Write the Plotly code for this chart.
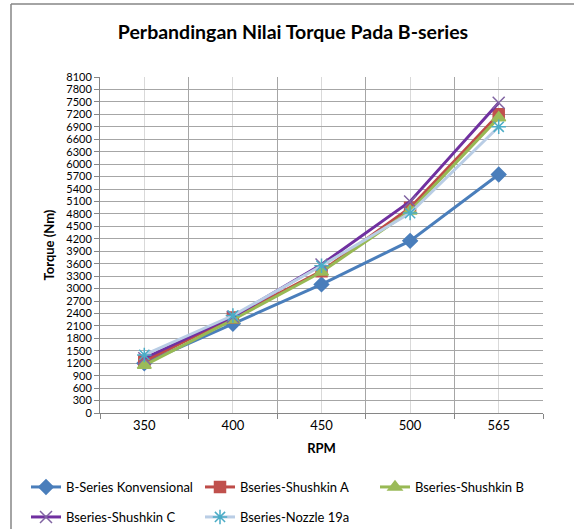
import plotly.graph_objects as go

# RPM categories and torque readings (Nm)
rpm = ["350", "400", "450", "500", "565"]
konvensional = [1200, 2150, 3100, 4150, 5750]
shushkin_a = [1250, 2300, 3420, 4950, 7200]
shushkin_b = [1150, 2250, 3400, 4870, 7120]
shushkin_c = [1320, 2320, 3580, 5100, 7480]
nozzle_19a = [1400, 2350, 3550, 4820, 6900]
y_ticks = list(range(0, 8101, 300))

FONT = "Lato"
W, H = 574, 529
L, R, T, B = 100, 31, 77, 116
pw, ph = W - L - R, H - T - B

xpos = list(range(len(rpm)))

# name, values, line colour, marker colour, symbol, size, legend slot
series = [
    ("B-Series Konvensional", konvensional, "#4A7EBB", "#4A7EBB", "diamond", 11, "legend"),
    ("Bseries-Shushkin A", shushkin_a, "#BE4B48", "#C0504D", "square", 11, "legend"),
    ("Bseries-Shushkin B", shushkin_b, "#98B954", "#9BBB59", "triangle-up", 12, "legend3"),
    ("Bseries-Shushkin C", shushkin_c, "#7030A0", "#8064A2", "x-thin-open", 12, "legend2"),
    ("Bseries-Nozzle 19a", nozzle_19a, "#B9CDE5", "#4BACC6", "asterisk-open", 12, "legend2"),
]

fig = go.Figure()
for name, vals, lc, mc, sym, size, lg in series:
    fig.add_trace(go.Scatter(
        x=xpos, y=vals, name=name, mode="lines+markers",
        line=dict(color=lc, width=3),
        marker=dict(symbol=sym, size=size, color=mc,
                    line=dict(color=mc, width=1.5)),
        legend=lg,
    ))

def px_x(p):
    return (p - L) / pw

def px_y(p):
    return (H - B - p) / ph

legend_style = dict(
    orientation="h", xanchor="left", yanchor="middle",
    font=dict(family=FONT, size=13, color="#000000"),
    entrywidth=129, entrywidthmode="pixels",
    bgcolor="rgba(0,0,0,0)", itemwidth=30,
)

fig.update_layout(
    width=W, height=H,
    margin=dict(l=L, r=R, t=T, b=B, autoexpand=False),
    paper_bgcolor="white", plot_bgcolor="white",
    title=dict(text="<b>Perbandingan Nilai Torque Pada B-series</b>",
               x=px_x(293), xref="paper", xanchor="center",
               y=1 - 32 / H, yanchor="middle",
               font=dict(family=FONT, size=19.5, color="#000000")),
    xaxis=dict(
        range=[-0.5, len(rpm) - 0.5],
        tickmode="array", tickvals=xpos, ticktext=rpm,
        showgrid=True, gridcolor="#D9D9D9", gridwidth=1,
        minor=dict(tickmode="linear", tick0=-0.5, dtick=1,
                   showgrid=True, gridcolor="#A6A6A6", gridwidth=1,
                   ticks="outside", ticklen=5, tickcolor="#868686"),
        ticks="", showline=True, linecolor="#868686", linewidth=1,
        tickfont=dict(family=FONT, size=13, color="#000000"),
        title=dict(text="<b>RPM</b>", standoff=12,
                   font=dict(family=FONT, size=13, color="#000000")),
        zeroline=False, fixedrange=True, automargin=False,
    ),
    yaxis=dict(
        range=[0, 8100],
        tickmode="array", tickvals=y_ticks,
        showgrid=True, gridcolor="#A6A6A6", gridwidth=1,
        ticks="outside", ticklen=5, tickcolor="#868686",
        showline=True, linecolor="#868686", linewidth=1,
        tickfont=dict(family=FONT, size=11, color="#000000"),
        title=dict(text="<b>Torque (Nm)</b>", standoff=8,
                   font=dict(family=FONT, size=13, color="#000000")),
        zeroline=False, fixedrange=True, automargin=False,
    ),
    legend=dict(x=px_x(26), y=px_y(487), **legend_style),
    legend2=dict(x=px_x(26), y=px_y(517), **legend_style),
    legend3=dict(x=px_x(375), y=px_y(487), **legend_style),
    shapes=[
        # chart frame edges (top and left)
        dict(type="line", xref="paper", yref="paper",
             x0=px_x(11), x1=px_x(W + 5), y0=px_y(4), y1=px_y(4),
             line=dict(color="#868686", width=1.5)),
        dict(type="line", xref="paper", yref="paper",
             x0=px_x(11), x1=px_x(11), y0=px_y(4), y1=px_y(H + 5),
             line=dict(color="#868686", width=1.5)),
    ],
    showlegend=True,
)

fig.write_html("out.html")
